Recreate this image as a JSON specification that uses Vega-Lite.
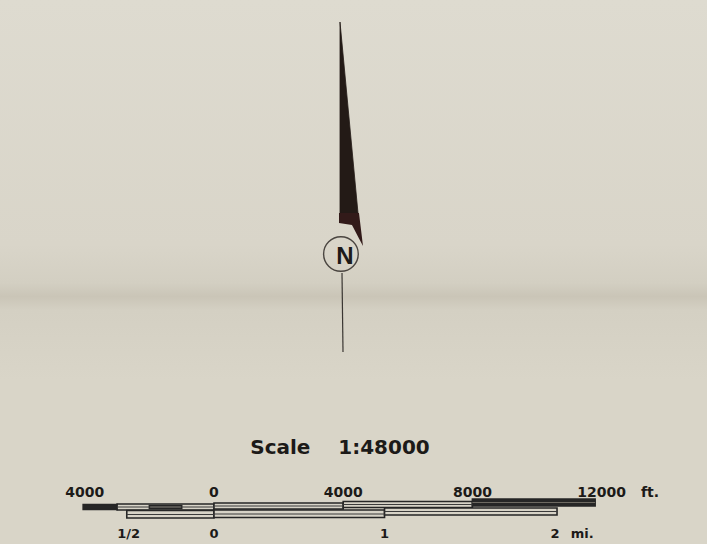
{
  "$schema": "https://vega.github.io/schema/vega-lite/v6.json",
  "width": 707,
  "height": 544,
  "padding": 0,
  "autosize": {"type": "fit", "contains": "padding"},
  "background": "#d8d4c8",
  "config": {"view": {"stroke": null}},
  "datasets": {
    "shaft": [{"a": 3901, "v": 22, "v2": 213}, {"a": 4458, "v": 213, "v2": 213}],
    "block": [{"a": 3870, "v": 213, "v2": 223}, {"a": 4272, "v": 213, "v2": 225}, {"a": 4489, "v": 213, "v2": 238.4}, {"a": 4613, "v": 246, "v2": 246}],
    "ring": [{"ft": 3930, "v": 254}],
    "north": [{"ft": 4056, "v": 257, "label": "N"}],
    "stem": [{"ft": 3963, "ft2": 3994, "v": 273, "v2": 352}],
    "title": [{"ft": 3901, "v": 448, "label": "Scale\u00a0\u00a0\u00a0\u00a01:48000"}],
    "feetLabels": [
      {"ft": -4000, "v": 493, "label": "4000"},
      {"ft": 0, "v": 493, "label": "0"},
      {"ft": 4000, "v": 493, "label": "4000"},
      {"ft": 8000, "v": 493, "label": "8000"},
      {"ft": 12000, "v": 493, "label": "12000"},
      {"ft": 13500, "v": 493, "label": "ft."}
    ],
    "mileLabels": [
      {"ft": -2640, "v": 534, "label": "1/2"},
      {"ft": 0, "v": 534, "label": "0"},
      {"ft": 5280, "v": 534, "label": "1"},
      {"ft": 10560, "v": 534, "label": "2"},
      {"ft": 11400, "v": 534, "label": "mi."}
    ],
    "segments": [
      {"ft": -4050, "ft2": -3000, "v": 504.5, "v2": 509.5, "kind": "solid"},
      {"ft": -3000, "ft2": 0, "v": 504, "v2": 510, "kind": "open"},
      {"ft": -2000, "ft2": -1000, "v": 505.5, "v2": 508.5, "kind": "faded"},
      {"ft": 0, "ft2": 4000, "v": 503, "v2": 509, "kind": "open"},
      {"ft": 4000, "ft2": 8000, "v": 501.5, "v2": 507.5, "kind": "open"},
      {"ft": 8000, "ft2": 11800, "v": 499, "v2": 506, "kind": "solid"},
      {"ft": -2700, "ft2": 0, "v": 510.5, "v2": 518, "kind": "open"},
      {"ft": 0, "ft2": 5280, "v": 510, "v2": 517.5, "kind": "open"},
      {"ft": 5280, "ft2": 10620, "v": 508, "v2": 515, "kind": "open"}
    ],
    "inner": [
      {"ft": -3000, "ft2": 0, "v": 507, "kind": "dark"},
      {"ft": 0, "ft2": 4000, "v": 506, "kind": "dark"},
      {"ft": 4000, "ft2": 8000, "v": 504.5, "kind": "dark"},
      {"ft": 8000, "ft2": 11800, "v": 502.5, "kind": "light"},
      {"ft": -2700, "ft2": 0, "v": 514.5, "kind": "dark"},
      {"ft": 0, "ft2": 5280, "v": 514, "kind": "dark"},
      {"ft": 5280, "ft2": 10620, "v": 511.5, "kind": "dark"}
    ]
  },
  "layer": [
    {
      "data": {"values": [{}]},
      "mark": {
        "type": "rect",
        "color": {
          "gradient": "linear", "x1": 0, "y1": 0, "x2": 0, "y2": 1,
          "stops": [
            {"offset": 0, "color": "#dedbd0"},
            {"offset": 0.45, "color": "#d9d5c9"},
            {"offset": 0.52, "color": "#d3cfc2"},
            {"offset": 0.545, "color": "#cac5b7"},
            {"offset": 0.57, "color": "#d4d0c3"},
            {"offset": 0.7, "color": "#d9d5c8"},
            {"offset": 1, "color": "#d9d5c8"}
          ]
        }
      },
      "encoding": {}
    },
    {
      "data": {"name": "ring"},
      "mark": {"type": "point", "shape": "circle", "filled": false, "size": 1200, "stroke": "#4a4540", "strokeWidth": 1.4, "opacity": 1},
      "encoding": {
        "x": {"field": "ft", "type": "quantitative", "scale": {"domain": [-6625, 15263], "nice": false, "zero": false}, "axis": null},
        "y": {"field": "v", "type": "quantitative", "scale": {"domain": [0, 544], "reverse": true, "nice": false, "zero": false}, "axis": null}
      }
    },
    {
      "data": {"name": "shaft"},
      "mark": {"type": "area", "orient": "vertical", "color": "#231a16", "stroke": "#231a16", "strokeWidth": 0.8},
      "encoding": {
        "x": {"field": "a", "type": "quantitative", "scale": {"domain": [-6625, 15263], "nice": false, "zero": false}, "axis": null},
        "y": {"field": "v", "type": "quantitative", "scale": {"domain": [0, 544], "reverse": true, "nice": false, "zero": false}, "axis": null},
        "y2": {"field": "v2"}
      }
    },
    {
      "data": {"name": "block"},
      "mark": {"type": "area", "orient": "vertical", "color": "#321a19"},
      "encoding": {
        "x": {"field": "a", "type": "quantitative", "scale": {"domain": [-6625, 15263], "nice": false, "zero": false}, "axis": null},
        "y": {"field": "v", "type": "quantitative", "scale": {"domain": [0, 544], "reverse": true, "nice": false, "zero": false}, "axis": null},
        "y2": {"field": "v2"}
      }
    },
    {
      "data": {"name": "stem"},
      "mark": {"type": "rule", "color": "#3a3632", "strokeWidth": 1.2},
      "encoding": {
        "x": {"field": "ft", "type": "quantitative", "scale": {"domain": [-6625, 15263], "nice": false, "zero": false}, "axis": null},
        "x2": {"field": "ft2"},
        "y": {"field": "v", "type": "quantitative", "scale": {"domain": [0, 544], "reverse": true, "nice": false, "zero": false}, "axis": null},
        "y2": {"field": "v2"}
      }
    },
    {
      "data": {"name": "north"},
      "mark": {"type": "text", "font": "Liberation Sans", "fontWeight": "bold", "fontSize": 24, "color": "#1c1a18", "align": "center", "baseline": "middle"},
      "encoding": {
        "x": {"field": "ft", "type": "quantitative", "scale": {"domain": [-6625, 15263], "nice": false, "zero": false}, "axis": null},
        "y": {"field": "v", "type": "quantitative", "scale": {"domain": [0, 544], "reverse": true, "nice": false, "zero": false}, "axis": null},
        "text": {"field": "label"}
      }
    },
    {
      "data": {"name": "title"},
      "mark": {"type": "text", "font": "DejaVu Sans", "fontWeight": "bold", "fontSize": 20, "color": "#1c1a18", "align": "center", "baseline": "middle"},
      "encoding": {
        "x": {"field": "ft", "type": "quantitative", "scale": {"domain": [-6625, 15263], "nice": false, "zero": false}, "axis": null},
        "y": {"field": "v", "type": "quantitative", "scale": {"domain": [0, 544], "reverse": true, "nice": false, "zero": false}, "axis": null},
        "text": {"field": "label"}
      }
    },
    {
      "data": {"name": "segments"},
      "mark": {"type": "rect", "stroke": "#262626", "strokeWidth": 1.6},
      "encoding": {
        "x": {"field": "ft", "type": "quantitative", "scale": {"domain": [-6625, 15263], "nice": false, "zero": false}, "axis": null},
        "x2": {"field": "ft2"},
        "y": {"field": "v", "type": "quantitative", "scale": {"domain": [0, 544], "reverse": true, "nice": false, "zero": false}, "axis": null},
        "y2": {"field": "v2"},
        "fill": {"field": "kind", "type": "nominal", "scale": {"domain": ["solid", "open", "faded"], "range": ["#262626", "#d7d3c7", "#8f8a80"]}, "legend": null}
      }
    },
    {
      "data": {"name": "inner"},
      "mark": {"type": "rule", "strokeWidth": 1.2},
      "encoding": {
        "x": {"field": "ft", "type": "quantitative", "scale": {"domain": [-6625, 15263], "nice": false, "zero": false}, "axis": null},
        "x2": {"field": "ft2"},
        "y": {"field": "v", "type": "quantitative", "scale": {"domain": [0, 544], "reverse": true, "nice": false, "zero": false}, "axis": null},
        "color": {"field": "kind", "type": "nominal", "scale": {"domain": ["dark", "light"], "range": ["#3a3a3a", "#6e6a62"]}, "legend": null}
      }
    },
    {
      "data": {"name": "feetLabels"},
      "mark": {"type": "text", "font": "DejaVu Sans", "fontWeight": "bold", "fontSize": 14, "color": "#1c1a18", "align": "center", "baseline": "middle"},
      "encoding": {
        "x": {"field": "ft", "type": "quantitative", "scale": {"domain": [-6625, 15263], "nice": false, "zero": false}, "axis": null},
        "y": {"field": "v", "type": "quantitative", "scale": {"domain": [0, 544], "reverse": true, "nice": false, "zero": false}, "axis": null},
        "text": {"field": "label"}
      }
    },
    {
      "data": {"name": "mileLabels"},
      "mark": {"type": "text", "font": "DejaVu Sans", "fontWeight": "bold", "fontSize": 13, "color": "#1c1a18", "align": "center", "baseline": "middle"},
      "encoding": {
        "x": {"field": "ft", "type": "quantitative", "scale": {"domain": [-6625, 15263], "nice": false, "zero": false}, "axis": null},
        "y": {"field": "v", "type": "quantitative", "scale": {"domain": [0, 544], "reverse": true, "nice": false, "zero": false}, "axis": null},
        "text": {"field": "label"}
      }
    }
  ]
}
